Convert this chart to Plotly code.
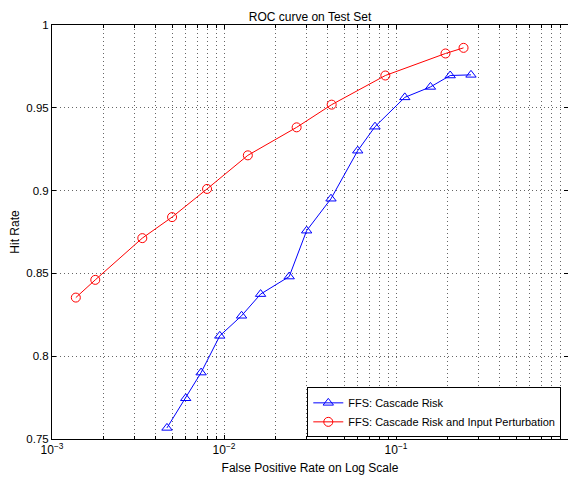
import plotly.graph_objects as go

# Data
fpr_cascade = [4.66e-3, 5.99e-3, 7.36e-3, 9.45e-3, 0.01265, 0.01632, 0.02394, 0.03023,
               0.04188, 0.0599, 0.0755, 0.1125, 0.1586, 0.2066, 0.2728]
hit_cascade = [0.7567, 0.7746, 0.7901, 0.8123, 0.8244, 0.8375, 0.8481, 0.8758,
               0.8951, 0.9241, 0.9386, 0.9563, 0.9626, 0.9695, 0.9699]

fpr_perturb = [1.376e-3, 1.785e-3, 3.35e-3, 4.99e-3, 7.97e-3, 0.01376, 0.02644,
               0.04227, 0.0867, 0.194, 0.247]
hit_perturb = [0.8354, 0.8461, 0.8713, 0.884, 0.901, 0.9213, 0.9382, 0.9519,
               0.9695, 0.9828, 0.9862]

x_tickvals = [1e-3, 1e-2, 1e-1, 1]
x_ticktext = ["10<sup>−3</sup>", "10<sup>−2</sup>", "10<sup>−1</sup>", "10<sup>0</sup>"]
x_minor = [m * 10.0 ** e for e in (-3, -2, -1) for m in range(2, 10)]
y_tickvals = [0.75, 0.8, 0.85, 0.9, 0.95, 1.0]
y_ticktext = ["0.75", "0.8", "0.85", "0.9", "0.95", "1"]

FONT = "Liberation Sans, Arial, Helvetica, sans-serif"
GRID = "rgba(0,0,0,0.6)"
DOT = "1px,3px"

fig = go.Figure()
fig.add_trace(go.Scatter(
    x=fpr_cascade, y=hit_cascade, mode="lines+markers",
    name="FFS: Cascade Risk",
    line=dict(color="rgb(0,0,255)", width=1),
    marker=dict(symbol="triangle-up-open", size=9, color="rgb(0,0,255)",
                line=dict(width=1, color="rgb(0,0,255)")),
))
fig.add_trace(go.Scatter(
    x=fpr_perturb, y=hit_perturb, mode="lines+markers",
    name="FFS: Cascade Risk and Input Perturbation",
    line=dict(color="rgb(255,0,0)", width=1),
    marker=dict(symbol="circle-open", size=9, color="rgb(255,0,0)",
                line=dict(width=1, color="rgb(255,0,0)")),
))

# The page body adds an 8px offset, so the figure is sized to fill the rest of the window.
fig.update_layout(
    width=568, height=469,
    margin=dict(l=44, r=8, t=17, b=38),
    paper_bgcolor="white", plot_bgcolor="white",
    font=dict(family=FONT, size=12, color="black"),
    title=dict(text="ROC curve on Test Set", xref="paper", x=0.5, xanchor="center",
               yref="container", y=1 - 8.5 / 469, yanchor="middle",
               font=dict(size=12)),
    showlegend=True,
    legend=dict(x=0.987, y=0.004, xanchor="right", yanchor="bottom",
                bgcolor="white", bordercolor="black", borderwidth=1,
                font=dict(size=11), tracegroupgap=0, itemwidth=30),
)

fig.update_xaxes(
    type="log", range=[-3, 0], automargin=False,
    tickvals=x_tickvals, ticktext=x_ticktext,
    ticks="inside", ticklen=4, tickcolor="black",
    showline=True, linecolor="black", linewidth=1, mirror="ticks",
    showgrid=True, gridcolor=GRID, griddash=DOT, gridwidth=1,
    minor=dict(tickvals=x_minor, ticks="inside", ticklen=3, tickcolor="black",
               showgrid=True, gridcolor=GRID, griddash=DOT, gridwidth=1),
    zeroline=False,
    tickfont=dict(size=12),
    title=dict(text="False Positive Rate on Log Scale", standoff=7, font=dict(size=12)),
)
fig.update_yaxes(
    range=[0.75, 1.0], automargin=False,
    tickvals=y_tickvals, ticktext=y_ticktext,
    ticks="inside", ticklen=4, tickcolor="black",
    showline=True, linecolor="black", linewidth=1, mirror="ticks",
    showgrid=True, gridcolor=GRID, griddash=DOT, gridwidth=1,
    zeroline=False,
    tickfont=dict(size=11.5),
    title=dict(text="Hit Rate", standoff=4, font=dict(size=12)),
)

fig.write_html("out.html")
